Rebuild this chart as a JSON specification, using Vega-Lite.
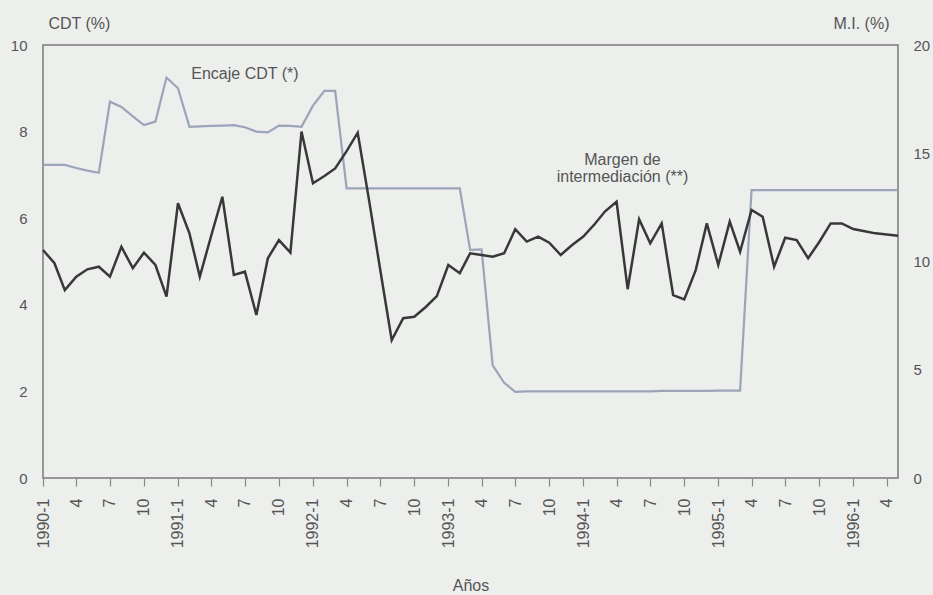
{
  "$schema": "https://vega.github.io/schema/vega-lite/v6.json",
  "width": 855,
  "height": 433,
  "autosize": {"type": "none"},
  "padding": {"left": 43, "top": 45, "right": 35, "bottom": 117},
  "background": "#edefed",
  "config": {
    "view": {"stroke": "#7a7a7a", "strokeWidth": 1.5},
    "axis": {"labelFont": "Liberation Sans", "titleFont": "Liberation Sans", "labelColor": "#555555", "titleColor": "#555555", "grid": false, "domain": false, "titleFontWeight": "normal"}
  },
  "datasets": {
    "series": [
      {"mes": "1990-01-01", "encaje": 7.23, "margen": 10.53},
      {"mes": "1990-02-01", "encaje": 7.23, "margen": 9.92},
      {"mes": "1990-03-01", "encaje": 7.23, "margen": 8.68},
      {"mes": "1990-04-01", "encaje": 7.16, "margen": 9.30},
      {"mes": "1990-05-01", "encaje": 7.10, "margen": 9.64},
      {"mes": "1990-06-01", "encaje": 7.05, "margen": 9.76},
      {"mes": "1990-07-01", "encaje": 8.69, "margen": 9.30},
      {"mes": "1990-08-01", "encaje": 8.57, "margen": 10.68},
      {"mes": "1990-09-01", "encaje": 8.35, "margen": 9.69},
      {"mes": "1990-10-01", "encaje": 8.15, "margen": 10.41},
      {"mes": "1990-11-01", "encaje": 8.23, "margen": 9.84},
      {"mes": "1990-12-01", "encaje": 9.25, "margen": 8.38},
      {"mes": "1991-01-01", "encaje": 9.00, "margen": 12.69},
      {"mes": "1991-02-01", "encaje": 8.11, "margen": 11.30},
      {"mes": "1991-03-01", "encaje": 8.12, "margen": 9.30},
      {"mes": "1991-04-01", "encaje": 8.13, "margen": 11.20},
      {"mes": "1991-05-01", "encaje": 8.14, "margen": 12.99},
      {"mes": "1991-06-01", "encaje": 8.15, "margen": 9.38},
      {"mes": "1991-07-01", "encaje": 8.10, "margen": 9.53},
      {"mes": "1991-08-01", "encaje": 8.00, "margen": 7.53},
      {"mes": "1991-09-01", "encaje": 7.98, "margen": 10.15},
      {"mes": "1991-10-01", "encaje": 8.14, "margen": 10.99},
      {"mes": "1991-11-01", "encaje": 8.13, "margen": 10.41},
      {"mes": "1991-12-01", "encaje": 8.11, "margen": 16.00},
      {"mes": "1992-01-01", "encaje": 8.60, "margen": 13.61},
      {"mes": "1992-02-01", "encaje": 8.94, "margen": 13.95},
      {"mes": "1992-03-01", "encaje": 8.94, "margen": 14.30},
      {"mes": "1992-04-01", "encaje": 6.69, "margen": 15.10},
      {"mes": "1992-05-01", "encaje": 6.69, "margen": 15.95},
      {"mes": "1992-06-01", "encaje": 6.69, "margen": 12.80},
      {"mes": "1992-07-01", "encaje": 6.69, "margen": 9.61},
      {"mes": "1992-08-01", "encaje": 6.69, "margen": 6.37},
      {"mes": "1992-09-01", "encaje": 6.69, "margen": 7.38},
      {"mes": "1992-10-01", "encaje": 6.69, "margen": 7.45},
      {"mes": "1992-11-01", "encaje": 6.69, "margen": 7.90},
      {"mes": "1992-12-01", "encaje": 6.69, "margen": 8.40},
      {"mes": "1993-01-01", "encaje": 6.69, "margen": 9.84},
      {"mes": "1993-02-01", "encaje": 6.69, "margen": 9.46},
      {"mes": "1993-03-01", "encaje": 5.27, "margen": 10.38},
      {"mes": "1993-04-01", "encaje": 5.28, "margen": 10.30},
      {"mes": "1993-05-01", "encaje": 2.60, "margen": 10.22},
      {"mes": "1993-06-01", "encaje": 2.20, "margen": 10.38},
      {"mes": "1993-07-01", "encaje": 1.99, "margen": 11.49},
      {"mes": "1993-08-01", "encaje": 2.00, "margen": 10.92},
      {"mes": "1993-09-01", "encaje": 2.00, "margen": 11.15},
      {"mes": "1993-10-01", "encaje": 2.00, "margen": 10.87},
      {"mes": "1993-11-01", "encaje": 2.00, "margen": 10.30},
      {"mes": "1993-12-01", "encaje": 2.00, "margen": 10.75},
      {"mes": "1994-01-01", "encaje": 2.00, "margen": 11.15},
      {"mes": "1994-02-01", "encaje": 2.00, "margen": 11.73},
      {"mes": "1994-03-01", "encaje": 2.00, "margen": 12.32},
      {"mes": "1994-04-01", "encaje": 2.00, "margen": 12.76},
      {"mes": "1994-05-01", "encaje": 2.00, "margen": 8.72},
      {"mes": "1994-06-01", "encaje": 2.00, "margen": 11.95},
      {"mes": "1994-07-01", "encaje": 2.00, "margen": 10.84},
      {"mes": "1994-08-01", "encaje": 2.01, "margen": 11.76},
      {"mes": "1994-09-01", "encaje": 2.01, "margen": 8.45},
      {"mes": "1994-10-01", "encaje": 2.01, "margen": 8.25},
      {"mes": "1994-11-01", "encaje": 2.01, "margen": 9.60},
      {"mes": "1994-12-01", "encaje": 2.01, "margen": 11.76},
      {"mes": "1995-01-01", "encaje": 2.02, "margen": 9.84},
      {"mes": "1995-02-01", "encaje": 2.02, "margen": 11.84},
      {"mes": "1995-03-01", "encaje": 2.02, "margen": 10.45},
      {"mes": "1995-04-01", "encaje": 6.65, "margen": 12.38},
      {"mes": "1995-05-01", "encaje": 6.65, "margen": 12.07},
      {"mes": "1995-06-01", "encaje": 6.65, "margen": 9.76},
      {"mes": "1995-07-01", "encaje": 6.65, "margen": 11.10},
      {"mes": "1995-08-01", "encaje": 6.65, "margen": 10.99},
      {"mes": "1995-09-01", "encaje": 6.65, "margen": 10.15},
      {"mes": "1995-10-01", "encaje": 6.65, "margen": 10.90},
      {"mes": "1995-11-01", "encaje": 6.65, "margen": 11.76},
      {"mes": "1995-12-01", "encaje": 6.65, "margen": 11.76},
      {"mes": "1996-01-01", "encaje": 6.65, "margen": 11.50},
      {"mes": "1996-02-01", "encaje": 6.65, "margen": 11.40},
      {"mes": "1996-03-01", "encaje": 6.65, "margen": 11.30},
      {"mes": "1996-04-01", "encaje": 6.65, "margen": 11.25},
      {"mes": "1996-05-01", "encaje": 6.65, "margen": 11.19}
    ],
    "notas": [
      {"mes": "1991-07-01", "valor": 9.33, "texto": "Encaje CDT (*)"},
      {"mes": "1994-04-17", "valor": 7.34, "texto": "Margen de\nintermediación (**)"}
    ]
  },
  "encoding": {
    "x": {
      "field": "mes",
      "type": "temporal",
      "scale": {"type": "utc", "domain": [{"year": 1990, "month": 1, "date": 1, "utc": true}, {"year": 1996, "month": 5, "date": 1, "utc": true}]},
      "axis": {
        "title": "Años",
        "titleFontSize": 16,
        "titleY": 112,
        "titleBaseline": "alphabetic",
        "labelAngle": 270,
        "labelFontSize": 16,
        "labelPadding": 12,
        "labelFlush": false,
        "labelOverlap": false,
        "tickSize": 8,
        "tickColor": "#888888",
        "tickWidth": 1.2,
        "tickCount": {"interval": "month", "step": 3},
        "labelExpr": "utcmonth(datum.value) == 0 ? utcyear(datum.value) + '-1' : '' + (utcmonth(datum.value) + 1)"
      }
    }
  },
  "layer": [
    {
      "data": {"name": "series"},
      "mark": {"type": "line", "color": "#9ba4b9", "strokeWidth": 2.2},
      "encoding": {
        "y": {
          "field": "encaje",
          "type": "quantitative",
          "scale": {"domain": [0, 10], "nice": false},
          "axis": {
            "orient": "left",
            "values": [0, 2, 4, 6, 8, 10],
            "ticks": false,
            "tickSize": 0,
            "labelPadding": 16,
            "labelFontSize": 15,
            "title": "CDT (%)",
            "titleFontSize": 16,
            "titleAngle": 0,
            "titleAlign": "left",
            "titleBaseline": "alphabetic",
            "titleX": 5,
            "titleY": -17
          }
        }
      }
    },
    {
      "data": {"name": "series"},
      "mark": {"type": "line", "color": "#383838", "strokeWidth": 2.5},
      "encoding": {
        "y": {
          "field": "margen",
          "type": "quantitative",
          "scale": {"domain": [0, 20], "nice": false},
          "axis": {
            "orient": "right",
            "values": [0, 5, 10, 15, 20],
            "ticks": false,
            "tickSize": 0,
            "labelPadding": 15,
            "labelFontSize": 15,
            "title": "M.I. (%)",
            "titleFontSize": 16,
            "titleAngle": 0,
            "titleAlign": "right",
            "titleBaseline": "alphabetic",
            "titleX": -9,
            "titleY": -17
          }
        }
      }
    },
    {
      "data": {"name": "notas"},
      "mark": {"type": "text", "font": "Liberation Sans", "fontSize": 16, "color": "#555555", "lineBreak": "\n", "lineHeight": 17, "align": "center", "baseline": "middle"},
      "encoding": {
        "y": {"field": "valor", "type": "quantitative", "scale": {"domain": [0, 10], "nice": false}, "axis": null},
        "text": {"field": "texto", "type": "nominal"}
      }
    }
  ],
  "resolve": {"scale": {"y": "independent"}}
}
